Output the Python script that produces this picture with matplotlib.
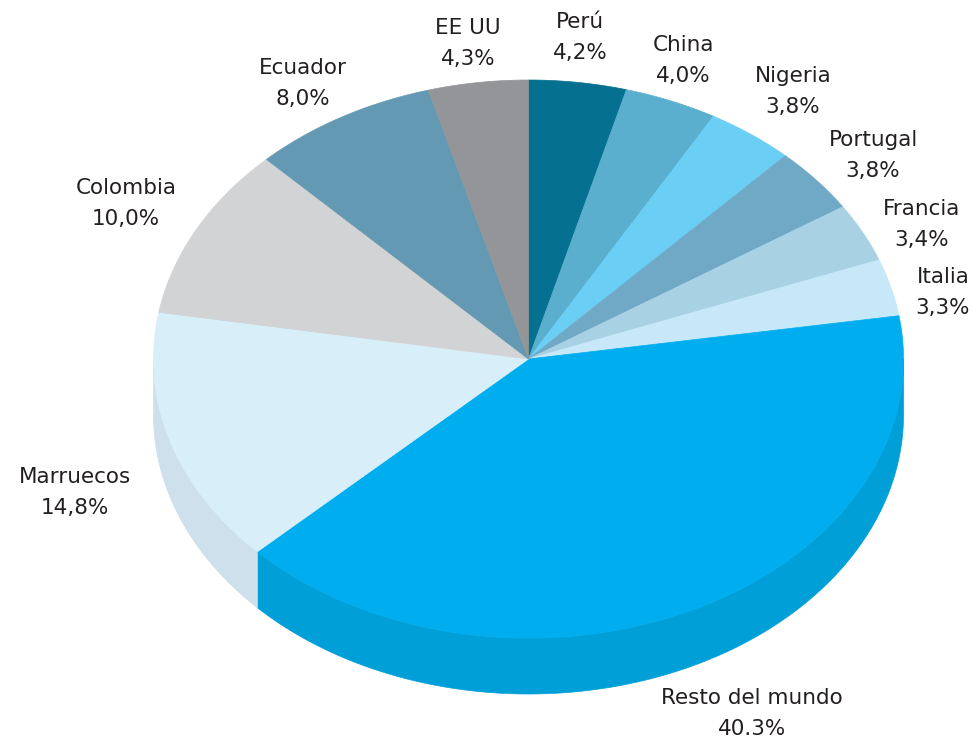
import numpy as np
import matplotlib.pyplot as plt
from matplotlib.patches import Polygon

labels = ["Perú", "China", "Nigeria", "Portugal", "Francia", "Italia",
          "Resto del mundo", "Marruecos", "Colombia", "Ecuador", "EE UU"]
values = [4.2, 4.0, 3.8, 3.8, 3.4, 3.3, 40.3, 14.8, 10.0, 8.0, 4.3]
value_text = ["4,2%", "4,0%", "3,8%", "3,8%", "3,4%", "3,3%",
              "40.3%", "14,8%", "10,0%", "8,0%", "4,3%"]
top_colors = ["#05708F", "#5AAFCF", "#6ACEF5", "#6FA9C6", "#A9D1E4", "#C6E8F8",
              "#00AEEF", "#D8EFFA", "#D1D3D4", "#6399B2", "#939598"]
side_colors = ["#04627D", "#4E9BB8", "#5DB8DA", "#6296B0", "#96BACB", "#B0CEDC",
               "#009FD8", "#CDE0EB", "#BDBFC0", "#58889E", "#838587"]
# label centres (x, y of first line) in pixel space
label_pos = [(580, 22), (683, 45), (793, 76), (873, 140), (922, 209), (943, 277),
             (752, 698), (75, 477), (126, 188), (303, 68), (468, 28)]

cx, cy = 528.5, 359
rx, ry = 375, 279
depth = 56

fig = plt.figure(figsize=(9.72, 7.38), dpi=100)
ax = fig.add_axes([0, 0, 1, 1])
ax.set_xlim(0, 972)
ax.set_ylim(738, 0)
ax.axis("off")


def rim(t):
    return cx + rx * np.sin(t), cy - ry * np.cos(t)


vals = np.array(values)
bounds = np.concatenate([[0], np.cumsum(vals) / vals.sum()]) * 2 * np.pi

# side walls (front half only: angles between 90 and 270 degrees)
for i in range(len(values)):
    a0 = max(bounds[i], np.pi / 2)
    a1 = min(bounds[i + 1], 3 * np.pi / 2)
    if a1 <= a0:
        continue
    t = np.linspace(a0, a1, 200)
    x, y = rim(t)
    pts = np.concatenate([np.column_stack([x, y]),
                          np.column_stack([x[::-1], y[::-1] + depth])])
    ax.add_patch(Polygon(pts, closed=True, facecolor=side_colors[i],
                         edgecolor=side_colors[i], lw=0.5))

# top faces
for i in range(len(values)):
    t = np.linspace(bounds[i], bounds[i + 1], 200)
    x, y = rim(t)
    pts = np.concatenate([[[cx, cy]], np.column_stack([x, y])])
    ax.add_patch(Polygon(pts, closed=True, facecolor=top_colors[i],
                         edgecolor=top_colors[i], lw=0.5))

for lab, vt, (lx, ly) in zip(labels, value_text, label_pos):
    ax.text(lx, ly, lab, ha="center", va="center", fontsize=15.5,
            color="#231F20", family="DejaVu Sans")
    ax.text(lx, ly + 31, vt, ha="center", va="center", fontsize=15.5,
            color="#231F20", family="DejaVu Sans")

plt.savefig("out.png", dpi=100)
plt.close()
